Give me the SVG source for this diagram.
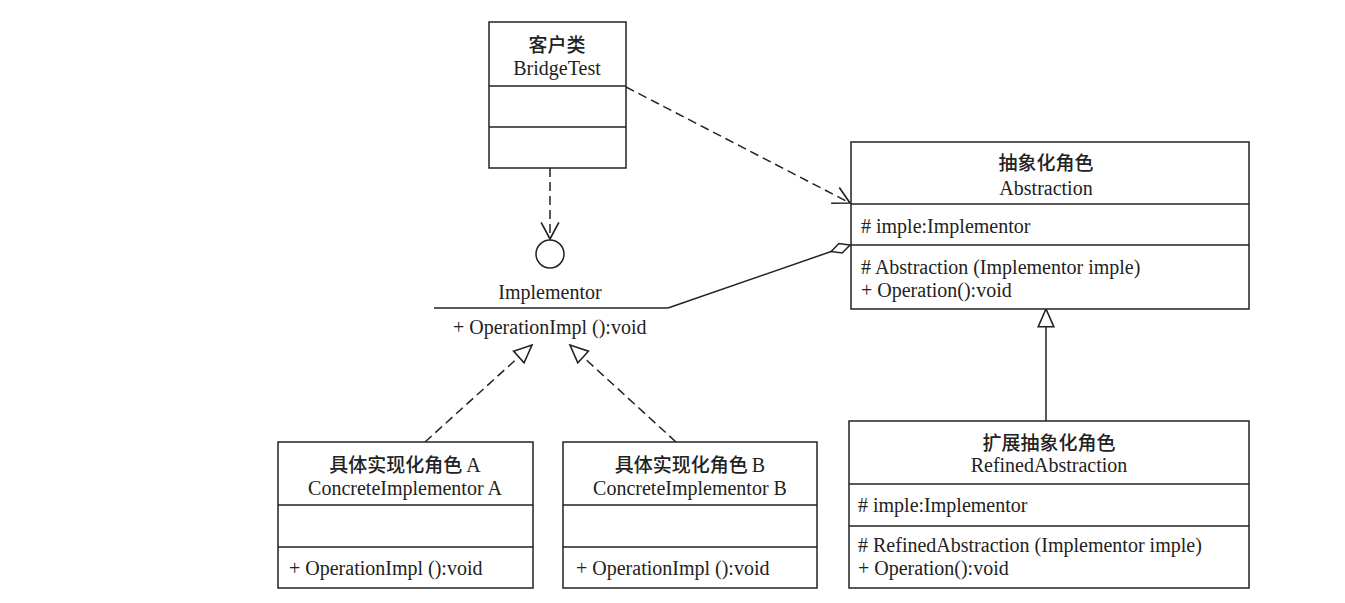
<svg xmlns="http://www.w3.org/2000/svg" width="1345" height="603" viewBox="0 0 1345 603">
<style>
.box{fill:#fff;stroke:#222;stroke-width:1.5}
.ln{stroke:#222;stroke-width:1.5;fill:none}
.dash{stroke:#222;stroke-width:1.5;fill:none;stroke-dasharray:9 5}
text{font-family:"Liberation Serif","Noto Sans CJK SC",serif;font-size:20px;fill:#222}
.c{text-anchor:middle}
.zh{font-family:"Noto Sans CJK SC",sans-serif;font-size:19px;font-weight:500}
</style>
<defs>
<marker id="open" markerUnits="userSpaceOnUse" markerWidth="20" markerHeight="20" viewBox="-16 -9 18 18" refX="0" refY="0" orient="auto">
<path d="M-15,-8 L0,0 L-15,8" fill="none" stroke="#222" stroke-width="1.5"/>
</marker>
<marker id="tri" markerUnits="userSpaceOnUse" markerWidth="22" markerHeight="22" viewBox="-19 -10 21 20" refX="0" refY="0" orient="auto">
<path d="M-17,-7.5 L0,0 L-17,7.5 Z" fill="#fff" stroke="#222" stroke-width="1.5"/>
</marker>
<marker id="dia" markerUnits="userSpaceOnUse" markerWidth="26" markerHeight="14" viewBox="-22 -7 24 14" refX="0" refY="0" orient="auto">
<path d="M-20,0 L-10,-5 L0,0 L-10,5 Z" fill="#fff" stroke="#222" stroke-width="1.5"/>
</marker>
</defs>
<rect width="1345" height="603" fill="#fff"/>

<g id="connectors">
<line class="dash" x1="550" y1="168" x2="550" y2="239" marker-end="url(#open)"/>
<line class="dash" x1="626" y1="87" x2="850" y2="203" marker-end="url(#open)"/>
<line class="ln" x1="668" y1="308" x2="850" y2="245" marker-end="url(#dia)"/>
<line class="dash" x1="425" y1="442" x2="532" y2="345" marker-end="url(#tri)"/>
<line class="dash" x1="676" y1="442" x2="570" y2="345" marker-end="url(#tri)"/>
<line class="ln" x1="1046" y1="421" x2="1046" y2="309" marker-end="url(#tri)"/>
</g>

<g id="bridgetest">
<rect class="box" x="489" y="22" width="137" height="146"/>
<line class="ln" x1="489" y1="86" x2="626" y2="86"/>
<line class="ln" x1="489" y1="127" x2="626" y2="127"/>
<text class="c zh" x="557" y="52">客户类</text>
<text class="c" x="557" y="75">BridgeTest</text>
</g>

<g id="implementor">
<circle cx="550" cy="254" r="14" fill="#fff" stroke="#222" stroke-width="1.5"/>
<text class="c" x="550" y="299">Implementor</text>
<line class="ln" x1="434" y1="308" x2="668" y2="308"/>
<text x="453" y="334">+ OperationImpl ():void</text>
</g>

<g id="abstraction">
<rect class="box" x="851" y="142" width="398" height="167"/>
<line class="ln" x1="851" y1="204" x2="1249" y2="204"/>
<line class="ln" x1="851" y1="245" x2="1249" y2="245"/>
<text class="c zh" x="1046" y="170">抽象化角色</text>
<text class="c" x="1046" y="195">Abstraction</text>
<text x="861" y="233"># imple:Implementor</text>
<text x="861" y="274"># Abstraction (Implementor imple)</text>
<text x="861" y="297">+ Operation():void</text>
</g>

<g id="refined">
<rect class="box" x="849" y="421" width="400" height="167"/>
<line class="ln" x1="849" y1="484" x2="1249" y2="484"/>
<line class="ln" x1="849" y1="526" x2="1249" y2="526"/>
<text class="c zh" x="1049" y="450">扩展抽象化角色</text>
<text class="c" x="1049" y="472">RefinedAbstraction</text>
<text x="858" y="512"># imple:Implementor</text>
<text x="858" y="552"># RefinedAbstraction (Implementor imple)</text>
<text x="858" y="575">+ Operation():void</text>
</g>

<g id="concreteA">
<rect class="box" x="278" y="442" width="255" height="146"/>
<line class="ln" x1="278" y1="505" x2="533" y2="505"/>
<line class="ln" x1="278" y1="547" x2="533" y2="547"/>
<text class="c" x="405" y="472"><tspan class="zh">具体实现化角色</tspan><tspan dx="4">A</tspan></text>
<text class="c" x="405" y="495">ConcreteImplementor A</text>
<text x="289" y="575">+ OperationImpl ():void</text>
</g>

<g id="concreteB">
<rect class="box" x="563" y="442" width="254" height="146"/>
<line class="ln" x1="563" y1="505" x2="817" y2="505"/>
<line class="ln" x1="563" y1="547" x2="817" y2="547"/>
<text class="c" x="690" y="472"><tspan class="zh">具体实现化角色</tspan><tspan dx="4">B</tspan></text>
<text class="c" x="690" y="495">ConcreteImplementor B</text>
<text x="576" y="575">+ OperationImpl ():void</text>
</g>
</svg>
